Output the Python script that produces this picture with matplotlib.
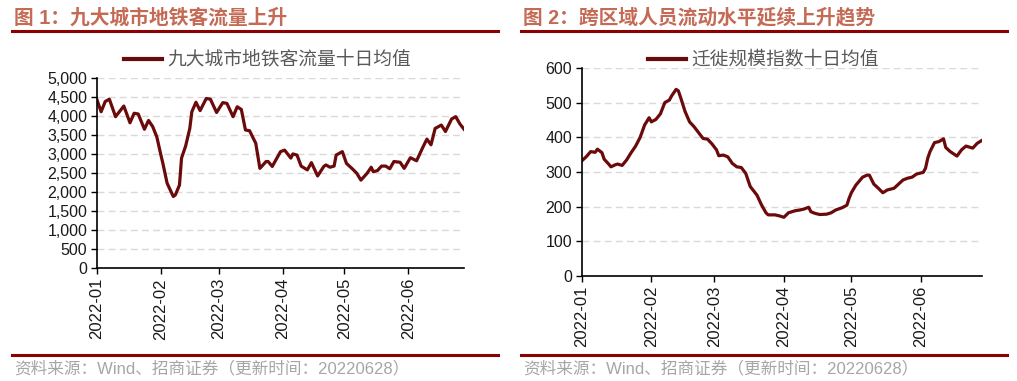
import matplotlib
matplotlib.use("Agg")
import matplotlib.pyplot as plt
import matplotlib.dates as mdates
import numpy as np
import pandas as pd

plt.rcParams['font.family'] = ['Liberation Sans', 'Noto Sans CJK SC', 'DejaVu Sans']

# figure 1: subway ridership in nine cities, 10-day average
metro_days = [0, 2, 4, 6, 9, 13, 16, 18, 20, 23, 25, 27, 29, 31, 32, 34, 37, 38, 40, 41,
              43, 45, 46, 48, 50, 53, 55, 58, 61, 63, 66, 68, 70, 72, 74, 77, 79, 82, 83, 85,
              89, 91, 94, 95, 97, 99, 102, 104, 107, 110, 111, 113, 115, 116, 119, 121, 124, 126, 128, 131,
              133, 134, 136, 138, 140, 142, 144, 147, 149, 152, 155, 158, 160, 162, 164, 167, 169, 172, 174, 176,
              178]
metro_vals = [4430, 4120, 4390, 4450, 3990, 4270, 3830, 4080, 4060, 3660, 3890, 3730, 3460, 2980, 2750, 2240, 1890, 1930, 2190, 2900,
              3220, 3680, 4120, 4370, 4150, 4470, 4450, 4100, 4360, 4340, 3990, 4250, 4180, 3640, 3620, 3290, 2630, 2810, 2810, 2680,
              3070, 3110, 2900, 3010, 2980, 2690, 2590, 2780, 2430, 2680, 2720, 2660, 2690, 2980, 3070, 2760, 2610, 2500, 2320, 2500,
              2660, 2540, 2570, 2690, 2690, 2620, 2810, 2790, 2630, 2910, 2830, 3180, 3400, 3250, 3680, 3770, 3600, 3930, 3990, 3800,
              3660]

# figure 2: migration scale index, 10-day average
migr_days = [0, 2, 4, 6, 7, 9, 10, 12, 13, 15, 16, 18, 20, 22, 24, 26, 28, 30, 31, 33,
             35, 37, 39, 40, 42, 43, 44, 46, 48, 50, 52, 54, 56, 58, 60, 61, 63, 65, 67, 69,
             71, 73, 75, 78, 80, 82, 83, 86, 88, 90, 92, 95, 97, 99, 101, 102, 104, 106, 109, 111,
             113, 116, 118, 119, 120, 122, 125, 127, 128, 130, 132, 134, 136, 139, 141, 143, 145, 147, 149, 152,
             153, 154, 155, 157, 159, 161, 162, 164, 167, 169, 171, 174, 176, 178]
migr_vals = [332, 344, 359, 357, 366, 356, 337, 323, 315, 321, 323, 319, 335, 356, 375, 400, 436, 457, 445, 452,
             468, 501, 508, 520, 539, 535, 516, 475, 445, 431, 414, 397, 395, 381, 364, 347, 349, 344, 325, 315,
             313, 296, 258, 233, 205, 182, 176, 176, 173, 169, 182, 188, 190, 193, 198, 185, 180, 177, 178, 182,
             190, 197, 204, 224, 240, 262, 285, 291, 291, 265, 253, 240, 248, 253, 265, 277, 282, 285, 294, 299,
             311, 340, 359, 385, 388, 396, 371, 359, 346, 364, 375, 369, 383, 391]

month_ticks = ['2022-01-01', '2022-02-01', '2022-03-01', '2022-04-01', '2022-05-01', '2022-06-01']

start = pd.Timestamp('2022-01-01')
end = pd.Timestamp('2022-06-28')
line_col = '#6B0A0A'
title_col = '#C46A55'
rule_col = '#8B0000'
grey_txt = '#A6A6A6'

fig = plt.figure(figsize=(10.17, 3.81), dpi=100)
W, H = 1017, 381


def px(x, y):
    return x / W, 1 - y / H


def panel(rect, days, vals, yticks, ylabels, ytop, title, legend_txt, leg_x, x0, x1):
    ax = fig.add_axes(rect)
    dates = start + pd.to_timedelta(days, unit='D')
    ax.plot(dates, vals, color=line_col, lw=2.3, solid_joinstyle='round')
    ax.set_xlim(start, end)
    ax.set_ylim(0, ytop)
    ax.set_yticks(yticks)
    ax.set_yticklabels(ylabels, fontsize=11.5, color='#1a1a1a')
    ax.set_xticks(pd.to_datetime(month_ticks))
    ax.xaxis.set_major_formatter(mdates.DateFormatter('%Y-%m'))
    for lab in ax.get_xticklabels():
        lab.set_rotation(90)
        lab.set_fontsize(12)
        lab.set_color('#1a1a1a')
    for t in yticks[1:]:
        ax.axhline(t, color='#D9D9D9', lw=1, ls=(0, (5, 3)), zorder=0)
    for s in ['top', 'right']:
        ax.spines[s].set_visible(False)
    ax.spines['left'].set_linewidth(1.2)
    ax.spines['bottom'].set_linewidth(1.2)
    ax.tick_params(axis='both', direction='out', length=4, width=1, pad=3)

    # header, rules and source
    fig.text(*px(x0 + 2, 18), title, fontsize=14.2, fontweight='bold', color=title_col,
             va='center', ha='left')
    fig.add_artist(plt.Line2D([x0 / W, x1 / W], [1 - 31 / H] * 2, color=rule_col, lw=2.2))
    fig.add_artist(plt.Line2D([x0 / W, x1 / W], [1 - 355 / H] * 2, color=rule_col, lw=2.2))
    fig.text(*px(x0 + 2, 368), '资料来源：Wind、招商证券（更新时间：20220628）', fontsize=12,
             color=grey_txt, va='center', ha='left')
    # legend
    fig.add_artist(plt.Line2D([leg_x / W, (leg_x + 38) / W], [1 - 59 / H] * 2, color=line_col, lw=3))
    fig.text(*px(leg_x + 43, 59), legend_txt, fontsize=13.5, color='#595959',
             va='center', ha='left', family=['Noto Sans CJK SC', 'DejaVu Sans'])
    return ax


y1 = list(range(0, 5001, 500))
panel([97 / W, 1 - 268.3 / H, (464 - 97) / W, (268.3 - 78.3) / H], metro_days, metro_vals,
      y1, [f'{v:,}' for v in y1], 5000, '图 1：九大城市地铁客流量上升', '九大城市地铁客流量十日均值',
      124, 12, 498)

y2 = list(range(0, 601, 100))
panel([581.7 / W, 1 - 275.7 / H, (981.7 - 581.7) / W, (275.7 - 68.3) / H], migr_days, migr_vals,
      y2, [str(v) for v in y2], 600, '图 2：跨区域人员流动水平延续上升趋势', '迁徙规模指数十日均值',
      648, 521, 1007)

fig.savefig('out.png', dpi=100)
